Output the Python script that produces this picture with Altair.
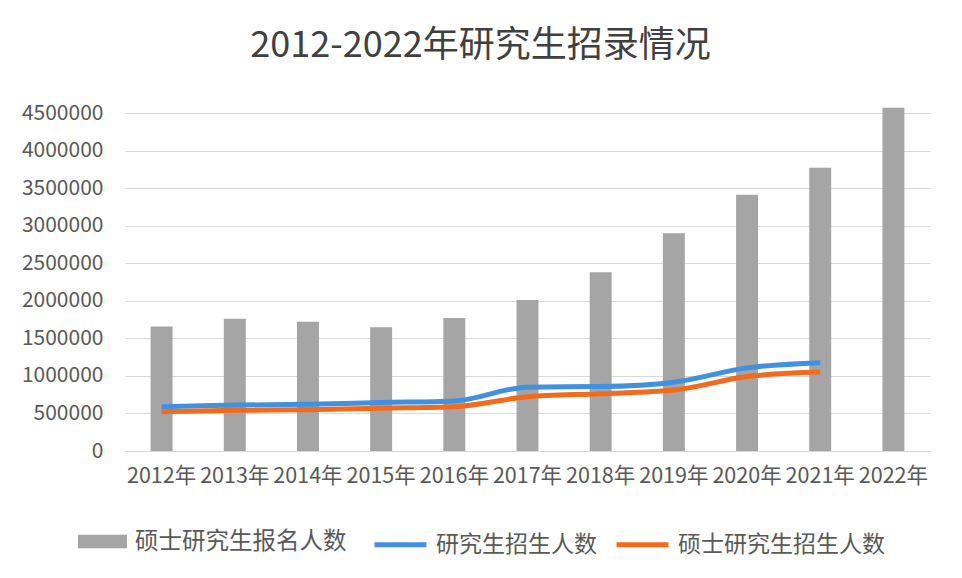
import altair as alt
import pandas as pd

years = ["2012年", "2013年", "2014年", "2015年", "2016年", "2017年", "2018年", "2019年", "2020年", "2021年", "2022年"]
applicants = [1656000, 1760000, 1720000, 1649000, 1770000, 2010000, 2380000, 2900000, 3410000, 3770000, 4570000]
grad_enrol = [589700, 611400, 621300, 645100, 667100, 850000, 858000, 916500, 1106600, 1176500]
master_enrol = [521300, 540900, 548700, 570600, 589800, 722200, 762500, 811300, 990500, 1050700]

s_bar = "硕士研究生报名人数"
s_l1 = "研究生招生人数"
s_l2 = "硕士研究生招生人数"

bar_df = pd.DataFrame({"year": years, "value": applicants, "series": s_bar})
line_df = pd.concat([
    pd.DataFrame({"year": years[:len(grad_enrol)], "value": grad_enrol, "series": s_l1}),
    pd.DataFrame({"year": years[:len(master_enrol)], "value": master_enrol, "series": s_l2}),
])

FONT = "Noto Sans CJK SC"
TXT = "#595959"

x = alt.X("year:N", sort=years, title=None,
          scale=alt.Scale(paddingInner=0.7, paddingOuter=0.35),
          axis=alt.Axis(labelAngle=0, labelFontSize=21.5, labelColor=TXT, labelFont=FONT,
                        ticks=False, domainColor="#d9d9d9", labelPadding=14, grid=False,
                        labelOverlap=False))
y = alt.Y("value:Q", title=None,
          scale=alt.Scale(domain=[0, 4500000], nice=False),
          axis=alt.Axis(values=list(range(0, 4500001, 500000)), format="d",
                        labelFontSize=21, labelColor=TXT, labelFont=FONT, labelPadding=22,
                        ticks=False, domain=False, gridColor="#d9d9d9", gridWidth=1))

bars = alt.Chart(bar_df).mark_bar(clip=False).encode(
    x=x, y=y,
    color=alt.Color("series:N", scale=alt.Scale(domain=[s_bar], range=["#a5a5a5"]),
                    legend=alt.Legend(title=None, orient="none", legendX=-48, legendY=403,
                                      symbolType="M-1,-0.28L1,-0.28L1,0.28L-1,0.28Z",
                                      symbolSize=2400, symbolOpacity=1, padding=0,
                                      labelFontSize=23.5, labelColor=TXT, labelFont=FONT,
                                      labelOffset=7, labelLimit=400)),
)

lines = alt.Chart(line_df).mark_line(strokeWidth=5, interpolate="monotone").encode(
    x=x, y=y,
    color=alt.Color("series:N", scale=alt.Scale(domain=[s_l1, s_l2], range=["#4191e1", "#f26b1d"]),
                    legend=alt.Legend(title=None, orient="none", legendX=247, legendY=403,
                                      direction="horizontal", columns=2, columnPadding=9,
                                      symbolType="stroke", symbolSize=2700, symbolStrokeWidth=5,
                                      padding=0, labelFontSize=23, labelColor=TXT, labelFont=FONT,
                                      labelOffset=7, labelLimit=400)),
)

chart = alt.layer(bars, lines).resolve_scale(color="independent").properties(
    width=805, height=338,
    autosize=alt.AutoSizeParams(type="none"),
    padding={"left": 117, "top": 105, "right": 20, "bottom": 120},
    title=alt.TitleParams("2012-2022年研究生招录情况", fontSize=36, font=FONT,
                          color="#404040", fontWeight="normal", dx=-47, offset=37),
).configure_view(stroke=None)

chart.save("out.html", embed_options={"renderer": "svg", "actions": False})
